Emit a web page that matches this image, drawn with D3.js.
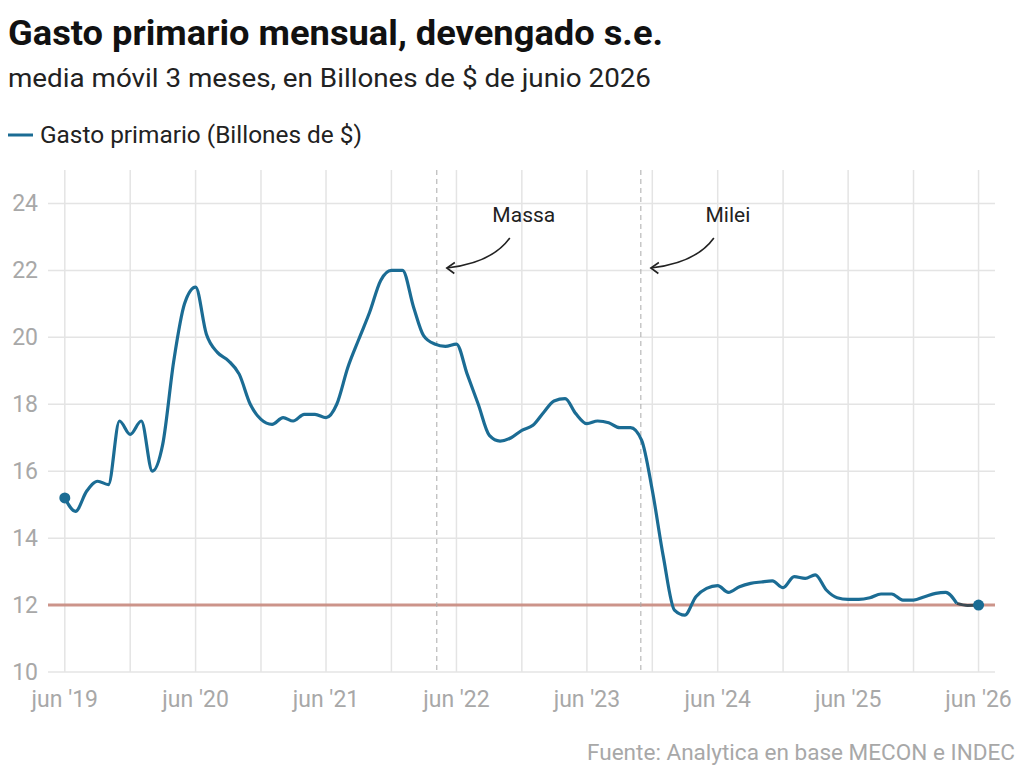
<!DOCTYPE html>
<html>
<head>
<meta charset="utf-8">
<script src="https://cdn.jsdelivr.net/npm/d3@7"></script>
<style>
  body { margin: 0; background: #fff; }
  svg { display: block; font-family: Roboto, "Noto Sans", sans-serif; }
</style>
</head>
<body>
<svg id="chart" width="1024" height="779"></svg>
<script>
// meses (primer día de cada mes), jun 2019 a jun 2026
const startMonth = '2019-06-01';
const values = [
  15.2, 14.8, 15.4, 15.7, 15.6, 17.5, 17.1,
  17.5, 16.0, 16.8, 19.3, 21.0, 21.5, 20.1, 19.55, 19.3, 18.9, 18.0, 17.55,
  17.4, 17.6, 17.5, 17.7, 17.7, 17.6, 18.0, 19.1, 19.95, 20.75, 21.7, 22.0,
  22.0, 20.9, 20.05, 19.8, 19.73, 19.8, 18.9, 18.0, 17.07, 16.9, 17.0, 17.22,
  17.37, 17.77, 18.1, 18.17, 17.72, 17.42, 17.5, 17.45, 17.3, 17.3, 16.93, 15.43,
  13.44, 11.85, 11.7, 12.25, 12.5, 12.58, 12.38, 12.55, 12.65, 12.69, 12.72, 12.52,
  12.85, 12.8, 12.9, 12.45, 12.22, 12.17, 12.17, 12.22, 12.33, 12.33, 12.15, 12.15,
  12.25, 12.35, 12.38, 12.05, 11.99, 12.0
];
const projectedFrom = 82; // desde abr 2026 el tramo va en gris
const refValue = 12;
const yTicks = [10, 12, 14, 16, 18, 20, 22, 24];
const xTickYears = [2019, 2020, 2021, 2022, 2023, 2024, 2025, 2026];
const events = [
  { label: 'Massa', date: '2022-04-07' },
  { label: 'Milei', date: '2023-10-30' }
];

const parse = d3.timeParse('%Y-%m-%d');
const t0 = parse(startMonth);
const data = values.map((v, i) => ({ date: d3.timeMonth.offset(t0, i), value: v }));

const svg = d3.select('#chart');
const plotL = 48, plotR = 995, plotT = 170, plotB = 672;

const x = d3.scaleTime()
  .domain([parse('2019-04-15'), parse('2026-07-17')])
  .range([plotL, plotR]);
const y = d3.scaleLinear()
  .domain([10, 25])
  .range([plotB, plotT]);

// títulos (fuente condensada en el original: se ajusta el ancho)
svg.append('text')
  .attr('x', 8).attr('y', 45)
  .attr('font-size', 35).attr('font-weight', 700)
  .attr('textLength', 655).attr('lengthAdjust', 'spacingAndGlyphs')
  .attr('fill', '#111')
  .text('Gasto primario mensual, devengado s.e.');
svg.append('text')
  .attr('x', 8).attr('y', 87)
  .attr('font-size', 26)
  .attr('textLength', 643).attr('lengthAdjust', 'spacingAndGlyphs')
  .attr('fill', '#222')
  .text('media móvil 3 meses, en Billones de $ de junio 2026');

// leyenda
svg.append('line')
  .attr('x1', 8).attr('x2', 33).attr('y1', 135).attr('y2', 135)
  .attr('stroke', '#1b6c94').attr('stroke-width', 3);
svg.append('text')
  .attr('x', 40).attr('y', 143)
  .attr('font-size', 23)
  .attr('textLength', 322).attr('lengthAdjust', 'spacingAndGlyphs')
  .attr('fill', '#222')
  .text('Gasto primario (Billones de $)');

// grilla
const gridDates = d3.timeMonth.range(parse('2019-06-01'), parse('2026-07-01'), 6);
svg.append('g')
  .selectAll('line')
  .data(gridDates)
  .join('line')
  .attr('x1', d => x(d)).attr('x2', d => x(d))
  .attr('y1', plotT).attr('y2', plotB)
  .attr('stroke', '#e4e4e4').attr('stroke-width', 1.5);

svg.append('g')
  .selectAll('line')
  .data(yTicks)
  .join('line')
  .attr('x1', plotL).attr('x2', plotR)
  .attr('y1', d => y(d)).attr('y2', d => y(d))
  .attr('stroke', '#e4e4e4').attr('stroke-width', 1.5);

// etiquetas de ejes
svg.append('g')
  .selectAll('text')
  .data(yTicks)
  .join('text')
  .attr('x', 38).attr('y', d => y(d) + 8)
  .attr('text-anchor', 'end')
  .attr('font-size', 23)
  .attr('fill', '#a8a8a8')
  .text(d => d);

svg.append('g')
  .selectAll('text')
  .data(xTickYears)
  .join('text')
  .attr('x', d => x(new Date(d, 5, 1)))
  .attr('y', 707)
  .attr('text-anchor', 'middle')
  .attr('font-size', 23)
  .attr('fill', '#a8a8a8')
  .text(d => `jun '${String(d).slice(2)}`);

// línea de referencia
svg.append('line')
  .attr('x1', plotL).attr('x2', plotR)
  .attr('y1', y(refValue)).attr('y2', y(refValue))
  .attr('stroke', '#c98b80').attr('stroke-width', 3).attr('opacity', 0.9);

// eventos
const ev = svg.append('g')
  .selectAll('g')
  .data(events)
  .join('g')
  .attr('transform', d => `translate(${x(parse(d.date))},0)`);

ev.append('line')
  .attr('y1', plotT).attr('y2', plotB)
  .attr('stroke', '#aaa').attr('stroke-width', 1)
  .attr('stroke-dasharray', '5,4');

ev.append('text')
  .attr('x', 87).attr('y', 222)
  .attr('text-anchor', 'middle')
  .attr('font-size', 21)
  .attr('fill', '#222')
  .text(d => d.label);

ev.append('path')
  .attr('d', 'M73,238 Q55,263 10,268')
  .attr('fill', 'none').attr('stroke', '#222').attr('stroke-width', 1.6);
ev.append('path')
  .attr('d', 'M18,262.5 L10,268 L17.5,273.5')
  .attr('fill', 'none').attr('stroke', '#222').attr('stroke-width', 1.6);

// serie
const line = d3.line()
  .x(d => x(d.date))
  .y(d => y(d.value))
  .curve(d3.curveMonotoneX);

svg.append('path')
  .datum(data.slice(projectedFrom))
  .attr('d', line)
  .attr('fill', 'none')
  .attr('stroke', '#3d4a52').attr('stroke-width', 3);

svg.append('path')
  .datum(data.slice(0, projectedFrom + 1))
  .attr('d', line)
  .attr('fill', 'none')
  .attr('stroke', '#1b6c94').attr('stroke-width', 3.2)
  .attr('stroke-linejoin', 'round');

svg.append('g')
  .selectAll('circle')
  .data([data[0], data[data.length - 1]])
  .join('circle')
  .attr('cx', d => x(d.date)).attr('cy', d => y(d.value))
  .attr('r', 5.5)
  .attr('fill', '#1b6c94');

// fuente
svg.append('text')
  .attr('x', 1015).attr('y', 760)
  .attr('text-anchor', 'end')
  .attr('font-size', 22)
  .attr('textLength', 428).attr('lengthAdjust', 'spacingAndGlyphs')
  .attr('fill', '#a8a8a8')
  .text('Fuente: Analytica en base MECON e INDEC');
</script>
</body>
</html>
